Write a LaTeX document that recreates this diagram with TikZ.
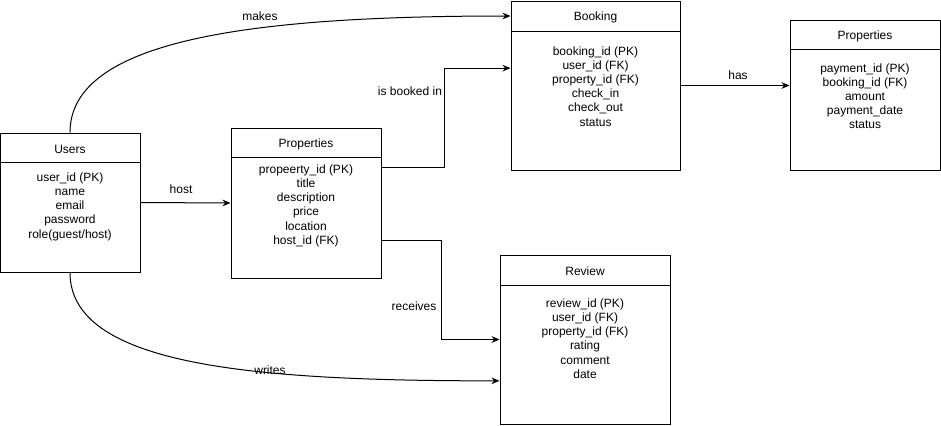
\documentclass[tikz,border=0pt]{standalone}
\usepackage{fontspec}
\setmainfont{Liberation Sans}
\usetikzlibrary{arrows.meta}

\begin{document}
\begin{tikzpicture}[x=0.75pt, y=-0.75pt, line width=0.75pt,
        >={Stealth[length=6pt, width=5pt]},
        font=\fontsize{9}{10.65}\selectfont,
        entity/.style={draw, rectangle, inner sep=0pt},
        attrs/.style={align=center, anchor=north, inner sep=0pt},
        lbl/.style={inner sep=1pt}]
        \useasboundingbox (0,0) rectangle (941,425);

        % entities
        \node[entity, minimum width=105pt, minimum height=104.25pt] (users) at (70,202.5) {};
        \node (users-t) at (70,149) {Users};
        \draw (users.north west) ++(0,30) -- ++(140,0);
        \node[attrs] (users-a) at (70,172) {user\_id (PK)\\name\\email\\password\\role(guest/host)};

        \node[entity, minimum width=112.5pt, minimum height=112.5pt] (props) at (306,203) {};
        \node (props-t) at (306,144) {Properties};
        \draw (props.north west) ++(0,30) -- ++(150,0);
        \node[attrs] (props-a) at (306,164) {propeerty\_id (PK)\\title\\description\\price\\location\\host\_id (FK)};

        \node[entity, minimum width=126.75pt, minimum height=126.75pt] (booking) at (595.5,85.5) {};
        \node (booking-t) at (595.5,17) {Booking};
        \draw (booking.north west) ++(0,31) -- ++(169,0);
        \node[attrs] (booking-a) at (595.5,46) {booking\_id (PK)\\user\_id (FK)\\property\_id (FK)\\check\_in\\check\_out\\status};

        \node[entity, minimum width=112.5pt, minimum height=112.5pt] (payment) at (865,95) {};
        \node (payment-t) at (865,36) {Properties};
        \draw (payment.north west) ++(0,30) -- ++(150,0);
        \node[attrs] (payment-a) at (865,63) {payment\_id (PK)\\booking\_id (FK)\\amount\\payment\_date\\status};

        \node[entity, minimum width=127.5pt, minimum height=126.75pt] (review) at (585,339.5) {};
        \node (review-t) at (585,271) {Review};
        \draw (review.north west) ++(0,31) -- ++(170,0);
        \node[attrs] (review-a) at (585,298) {review\_id (PK)\\user\_id (FK)\\property\_id (FK)\\rating\\comment\\date};

        % relations
        \draw[->] (users.north) .. controls (70,40) and (250,16) .. (booking.west |- 0,16);
        \draw[->] (users.east) -- (props.west);
        \draw[->] ([yshift=27pt]props.east) -- ++(63,0) |- ([yshift=13pt]booking.west);
        \draw[->] (booking.east) -- (booking.east -| payment.west);
        \draw[->] ([yshift=-27.75pt]props.east) -- ++(60,0) |- (review.west);
        \draw[->] (users.south) .. controls (70,365) and (250,381) .. ([yshift=-31pt]review.west);

        \node[lbl] (makes) at (260,16) {makes};
        \node[lbl] (host) at (181,189) {host};
        \node[lbl] (booked) at (410,91) {is booked in};
        \node[lbl] (has) at (738,75) {has};
        \node[lbl] (receives) at (414,306) {receives};
        \node[lbl] (writes) at (270,370) {writes};
    \end{tikzpicture}
\end{document}
